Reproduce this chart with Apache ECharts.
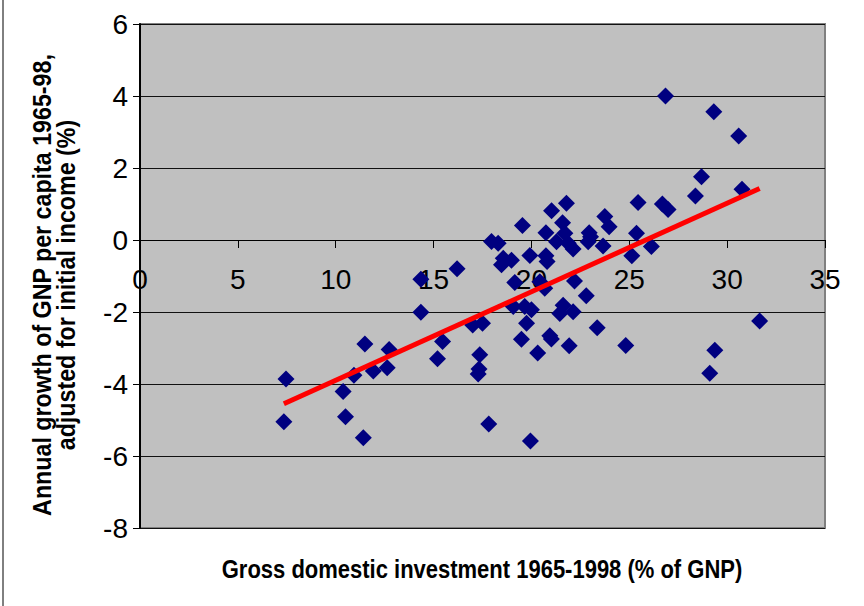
<!DOCTYPE html>
<html>
<head>
<meta charset="utf-8">
<script src="https://cdn.jsdelivr.net/npm/echarts@6/dist/echarts.min.js"></script>
<style>
  html, body { margin: 0; padding: 0; background: #fff; }
  #invest { width: 864px; height: 606px; }
</style>
</head>
<body>
<div id="invest"></div>
<script>
// investment share of GNP (x) vs adjusted growth (y), one entry per country
const investment = [
  7.46, 7.35, 10.38, 10.5, 11.41, 10.93, 11.49, 11.92, 12.73, 12.63,
  14.35, 14.35, 15.46, 15.2, 16.2, 17.0, 17.5, 17.36, 17.32, 17.28,
  17.82, 19.95, 19.49, 20.32, 19.75, 20.94, 21.02, 21.93, 19.07, 19.66,
  20.0, 21.45, 21.62, 22.13, 17.96, 18.3, 18.56, 18.98, 18.47, 19.54,
  19.92, 20.74, 20.74, 20.8, 21.03, 21.79, 21.59, 21.28, 21.71, 21.88,
  22.13, 19.15, 20.43, 20.68, 22.2, 22.8, 23.36, 24.82, 31.66, 29.37,
  29.11, 22.9, 23.66, 25.13, 26.13, 26.85, 29.32, 30.59, 28.69, 28.38,
  30.76, 25.45, 26.69, 26.98, 23.75, 23.97, 22.95, 23.02, 25.37
]
const growth = [
  -3.86, -5.05, -4.21, -4.91, -5.49, -3.76, -2.89, -3.64, -3.04, -3.55,
  -2.01, -1.09, -2.82, -3.3, -0.8, -2.36, -2.31, -3.19, -3.58, -3.72,
  -5.11, -5.58, -2.76, -3.14, -2.31, -2.66, -2.75, -2.94, -1.85, -1.85,
  -1.94, -2.04, -1.81, -1.99, -0.04, -0.09, -0.51, -0.56, -0.69, 0.4,
  -0.43, 0.2, -0.44, -0.6, 0.81, 1.02, 0.48, -0.05, 0.19, -0.09,
  -0.25, -1.18, -1.16, -1.34, -1.14, -1.55, -2.44, -2.93, -2.25, -3.06,
  -3.7, -0.05, -0.17, -0.44, -0.18, 4.0, 3.56, 2.89, 1.76, 1.22,
  1.41, 1.04, 1.0, 0.85, 0.65, 0.37, 0.2, 0.09, 0.19
]
// fitted trend line end points
const trendX = [7.35, 31.66]
const trendY = [-4.55, 1.43]

const myChart = echarts.init(document.getElementById('invest'), null, { renderer: 'svg' })

const points = investment.map((x, i) => [x, growth[i]])
const trend = trendX.map((x, i) => [x, trendY[i]])

const font = 'Arial, "Liberation Sans", sans-serif'
const titleFont = 'bold 25px Arial, "Liberation Sans", sans-serif'

const option = {
  animation: false,
  backgroundColor: '#ffffff',
  grid: {
    left: 140,
    right: 39,
    top: 24,
    bottom: 78,
    show: true,
    backgroundColor: '#c0c0c0',
    borderColor: '#808080',
    borderWidth: 2
  },
  xAxis: {
    type: 'value',
    min: 0,
    max: 35,
    interval: 5,
    // x axis crosses at y = 0, 288px above the plot bottom
    offset: -288,
    axisLine: { onZero: false, lineStyle: { color: '#000', width: 1 } },
    axisTick: { length: 8, lineStyle: { color: '#000' } },
    axisLabel: { color: '#000', fontSize: 28, fontFamily: font, margin: 25 },
    splitLine: { show: false }
  },
  yAxis: {
    type: 'value',
    min: -8,
    max: 6,
    interval: 2,
    axisLine: { lineStyle: { color: '#000', width: 2 } },
    axisTick: { length: 7, lineStyle: { color: '#000' } },
    axisLabel: { color: '#000', fontSize: 28, fontFamily: font, margin: 12 },
    splitLine: { lineStyle: { color: '#111', width: 1 } }
  },
  graphic: [
    {
      type: 'text',
      x: 482,
      y: 570,
      scaleX: 0.88,
      style: {
        text: 'Gross domestic investment 1965-1998 (% of GNP)',
        textAlign: 'center',
        textVerticalAlign: 'middle',
        fill: '#000',
        font: titleFont
      }
    },
    {
      type: 'text',
      x: 54,
      y: 285,
      rotation: Math.PI / 2,
      scaleX: 0.93,
      style: {
        text: 'Annual growth of GNP per capita 1965-98,\nadjusted for initial income (%)',
        textAlign: 'center',
        textVerticalAlign: 'middle',
        lineHeight: 24,
        fill: '#000',
        font: titleFont
      }
    },
    {
      type: 'line',
      shape: { x1: 3, y1: 0, x2: 3, y2: 606 },
      style: { stroke: '#000', lineWidth: 1 }
    }
  ],
  series: [
    {
      type: 'scatter',
      data: points,
      symbol: 'diamond',
      symbolSize: 17,
      itemStyle: { color: '#000080', opacity: 1 },
      z: 3
    },
    {
      type: 'line',
      data: trend,
      showSymbol: false,
      lineStyle: { color: '#ff0000', width: 5 },
      z: 4
    }
  ]
}
myChart.setOption(option)
</script>
</body>
</html>
